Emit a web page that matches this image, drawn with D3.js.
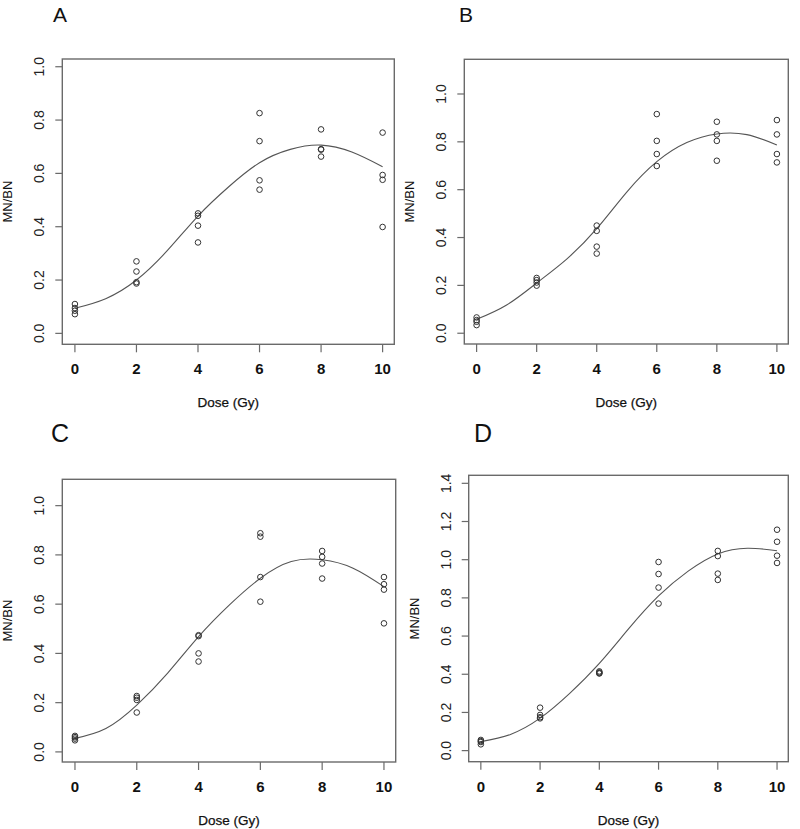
<!DOCTYPE html>
<html><head><meta charset="utf-8">
<script src="https://cdn.jsdelivr.net/npm/d3@7"></script>
<style>body{margin:0;background:#fff}svg{display:block}</style>
</head><body>
<svg id="chart" width="800" height="829"></svg>
<script>
// ---- data ----
const panelNames = ["A", "B", "C", "D"];
const doses = [0, 2, 4, 6, 8, 10];
const xTicks = [0, 2, 4, 6, 8, 10];
const yTicksA = [0, 0.2, 0.4, 0.6, 0.8, 1.0];
const yTicksB = [0, 0.2, 0.4, 0.6, 0.8, 1.0];
const yTicksC = [0, 0.2, 0.4, 0.6, 0.8, 1.0];
const yTicksD = [0, 0.2, 0.4, 0.6, 0.8, 1.0, 1.2, 1.4];
const xLabel = "Dose (Gy)";
const yLabel = "MN/BN";

// observed MN/BN per dose (4 replicates)
const valuesA = [[0.110, 0.095, 0.085, 0.072], [0.270, 0.232, 0.192, 0.187], [0.450, 0.441, 0.404, 0.341],
                 [0.826, 0.721, 0.574, 0.539], [0.765, 0.691, 0.689, 0.663], [0.753, 0.594, 0.576, 0.399]];
const valuesB = [[0.066, 0.055, 0.048, 0.034], [0.231, 0.222, 0.212, 0.199], [0.450, 0.428, 0.362, 0.333],
                 [0.916, 0.804, 0.749, 0.699], [0.884, 0.831, 0.804, 0.721], [0.891, 0.831, 0.749, 0.714]];
const valuesC = [[0.065, 0.060, 0.054, 0.047], [0.227, 0.220, 0.211, 0.160], [0.474, 0.470, 0.400, 0.367],
                 [0.888, 0.874, 0.710, 0.610], [0.816, 0.792, 0.765, 0.704], [0.710, 0.681, 0.659, 0.522]];
const valuesD = [[0.056, 0.050, 0.045, 0.033], [0.225, 0.187, 0.175, 0.169], [0.415, 0.410, 0.406, 0.404],
                 [0.988, 0.925, 0.854, 0.770], [1.046, 1.019, 0.927, 0.894], [1.157, 1.094, 1.021, 0.983]];

// fitted curve read at integer doses
const curveDoses = [0, 1, 2, 3, 4, 5, 6, 7, 8, 9, 10];
const curveA = [0.094, 0.130, 0.200, 0.310, 0.440, 0.550, 0.640, 0.690, 0.706, 0.680, 0.625];
const curveB = [0.058, 0.118, 0.210, 0.310, 0.437, 0.590, 0.717, 0.797, 0.833, 0.830, 0.787];
const curveC = [0.055, 0.095, 0.190, 0.320, 0.468, 0.597, 0.705, 0.773, 0.780, 0.746, 0.671];
const curveD = [0.047, 0.085, 0.170, 0.300, 0.457, 0.640, 0.810, 0.940, 1.030, 1.060, 1.047];

// ---- layout ----
const panels = [
  {name: panelNames[0], vals: valuesA, curve: curveA, yTicks: yTicksA, box: [62.3, 59, 394.3, 344.3], yDom: [-0.041, 1.029], lab: [53, 22, 21]},
  {name: panelNames[1], vals: valuesB, curve: curveB, yTicks: yTicksB, box: [464.3, 59.3, 788.3, 344], yDom: [-0.045, 1.145], lab: [459, 22, 21]},
  {name: panelNames[2], vals: valuesC, curve: curveC, yTicks: yTicksC, box: [62.3, 479.3, 395.7, 762], yDom: [-0.041, 1.107], lab: [51, 442, 25]},
  {name: panelNames[3], vals: valuesD, curve: curveD, yTicks: yTicksD, box: [468.7, 475.3, 788.3, 761.7], yDom: [-0.058, 1.442], lab: [474, 442, 25]}
];
const xDom = [-0.41, 10.38];
const axisColor = "#6a6a6a";
const font = "'Liberation Sans', Arial, sans-serif";

const svg = d3.select("#chart");

panels.forEach(p => {
  const [x0, y0, x1, y1] = p.box;
  const x = d3.scaleLinear().domain(xDom).range([x0, x1]);
  const y = d3.scaleLinear().domain(p.yDom).range([y1, y0]);
  const g = svg.append("g");

  // panel letter
  g.append("text").attr("x", p.lab[0]).attr("y", p.lab[1])
    .attr("font-family", font)
    .attr("font-size", p.lab[2]).attr("fill", "#111").text(p.name);

  // box
  g.append("rect").attr("x", x0).attr("y", y0).attr("width", x1 - x0).attr("height", y1 - y0)
    .attr("fill", "none").attr("stroke", axisColor).attr("stroke-width", 1.4);

  // x axis ticks
  const xa = g.append("g");
  xa.selectAll("line").data(xTicks).join("line")
    .attr("x1", d => x(d)).attr("x2", d => x(d)).attr("y1", y1).attr("y2", y1 + 8)
    .attr("stroke", axisColor).attr("stroke-width", 1.2);
  xa.selectAll("text").data(xTicks).join("text")
    .attr("x", d => x(d)).attr("y", y1 + 30)
    .attr("text-anchor", "middle").attr("font-family", font)
    .attr("font-weight", "bold").attr("font-size", 15).attr("fill", "#111").text(d => d);

  // y axis ticks
  const ya = g.append("g");
  ya.selectAll("line").data(p.yTicks).join("line")
    .attr("x1", x0 - 7).attr("x2", x0).attr("y1", d => y(d)).attr("y2", d => y(d))
    .attr("stroke", axisColor).attr("stroke-width", 1.2);
  ya.selectAll("text").data(p.yTicks).join("text")
    .attr("transform", d => `translate(${x0 - 18},${y(d)}) rotate(-90)`)
    .attr("text-anchor", "middle").attr("font-family", font)
    .attr("font-size", 14).attr("fill", "#222").text(d => d3.format(".1f")(d));

  // axis titles
  g.append("text").attr("x", (x0 + x1) / 2).attr("y", y1 + 63)
    .attr("text-anchor", "middle").attr("font-family", font)
    .attr("font-size", 13.5).attr("fill", "#111").attr("stroke", "#111").attr("stroke-width", 0.25)
    .text(xLabel);
  g.append("text").attr("transform", `translate(${x0 - 50},${(y0 + y1) / 2}) rotate(-90)`)
    .attr("text-anchor", "middle").attr("font-family", font)
    .attr("font-size", 13).attr("fill", "#111").text(yLabel);

  // fitted curve
  const line = d3.line().x((d, i) => x(curveDoses[i])).y(d => y(d)).curve(d3.curveNatural);
  g.append("path").attr("d", line(p.curve)).attr("fill", "none")
    .attr("stroke", "#555").attr("stroke-width", 1.1);

  // points
  const pts = [];
  p.vals.forEach((arr, i) => arr.forEach(v => pts.push({d: doses[i], v})));
  g.append("g").selectAll("circle").data(pts).join("circle")
    .attr("cx", d => x(d.d)).attr("cy", d => y(d.v)).attr("r", 2.8)
    .attr("fill", "none").attr("stroke", "#333").attr("stroke-width", 1);
});
</script>
</body></html>
